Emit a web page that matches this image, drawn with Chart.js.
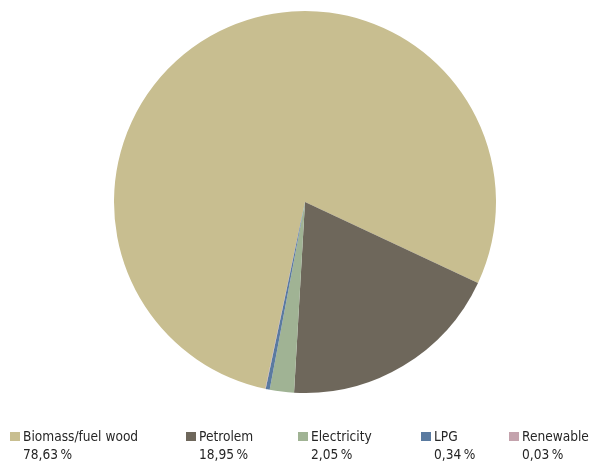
<!DOCTYPE html>
<html>
<head>
<meta charset="utf-8">
<script src="https://cdn.jsdelivr.net/npm/chart.js@4/dist/chart.umd.min.js"></script>
<style>
  html, body { margin: 0; padding: 0; background: #fff; }
  #wrap { width: 590px; height: 461px; position: relative; }
</style>
</head>
<body>
<div id="wrap"><canvas id="energyPie" width="590" height="461"></canvas></div>
<script>
var labels = ["Biomass/fuel wood", "Petrolem", "Electricity", "LPG", "Renewable"];
var shares = [78.63, 18.95, 2.05, 0.34, 0.03];
var sliceColors = ["#c8be90", "#6e675b", "#a0b394", "#5a7aa0", "#c4a3ad"];

// x position of each legend entry (square left edge)
var legendX = [10, 186, 298, 421, 509];

function pct(v) {
  return v.toFixed(2).replace(".", ",") + "\u2009%";
}

var bottomLegend = {
  id: "bottomLegend",
  afterDraw: function(chart) {
    var ctx = chart.ctx;
    ctx.save();
    ctx.font = "13.6px 'DejaVu Sans Condensed', 'DejaVu Sans', sans-serif";
    ctx.textBaseline = "alphabetic";
    for (var i = 0; i < labels.length; i++) {
      var x = legendX[i];
      ctx.fillStyle = sliceColors[i];
      ctx.fillRect(x, 432, 10, 9);
      ctx.fillStyle = "#262626";
      ctx.fillText(labels[i], x + 13, 441);
      ctx.fillText(pct(shares[i]), x + 13, 459);
    }
    ctx.restore();
  }
};

new Chart("energyPie", {
  type: "pie",
  data: {
    labels: labels,
    datasets: [{
      data: shares,
      backgroundColor: sliceColors,
      borderWidth: 0
    }]
  },
  options: {
    responsive: false,
    animation: false,
    rotation: 192,
    layout: { padding: { top: 11, bottom: 68, left: 20, right: 0 } },
    plugins: {
      legend: { display: false },
      tooltip: { enabled: false }
    }
  },
  plugins: [bottomLegend]
});
</script>
</body>
</html>
